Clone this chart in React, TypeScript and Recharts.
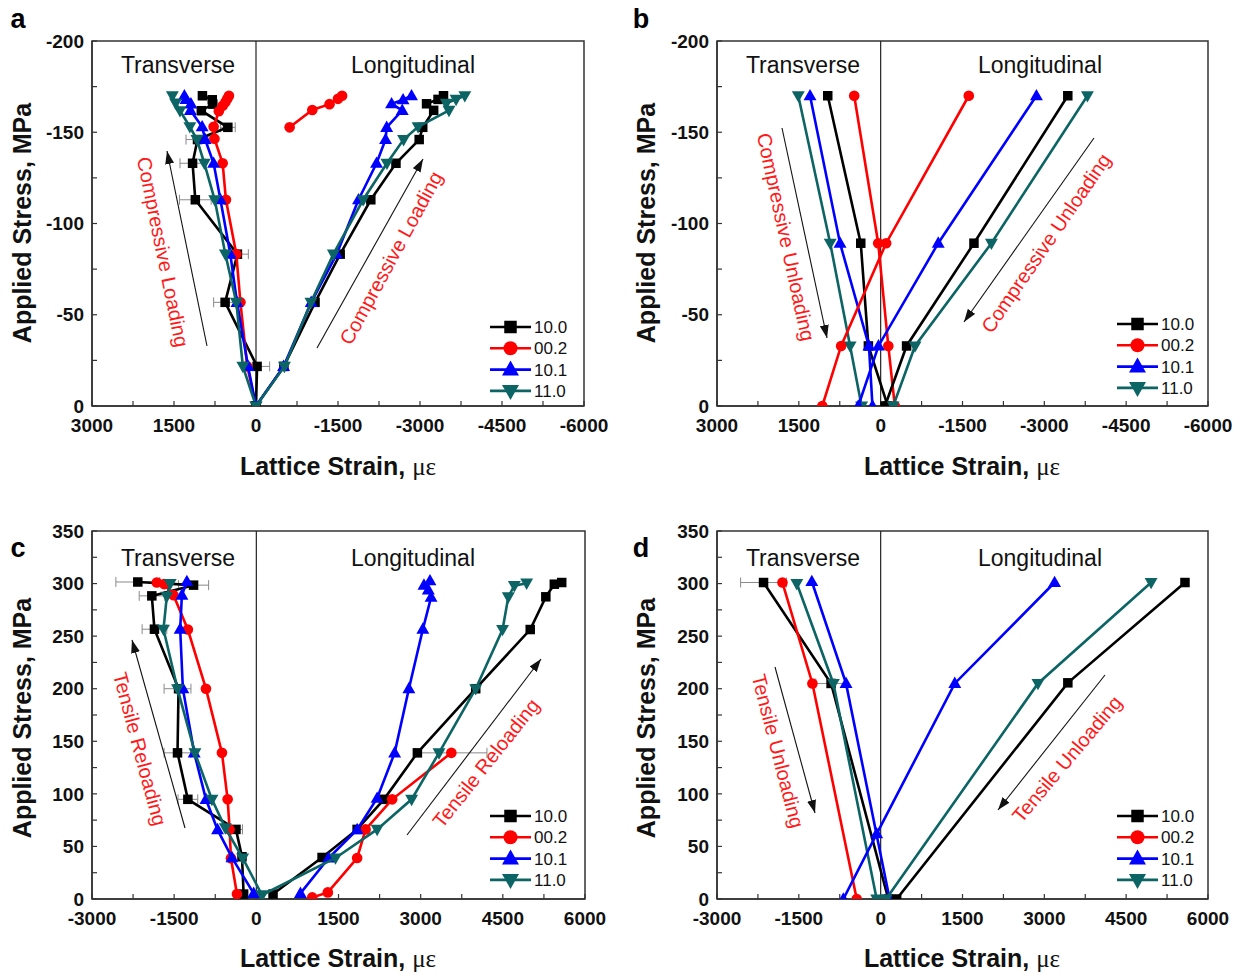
import React from 'react'
import {
  ScatterChart,
  Scatter,
  XAxis,
  YAxis,
  ReferenceLine,
  ReferenceArea,
  ErrorBar,
  Legend,
} from 'recharts'

// [lattice strain (με), applied stress (MPa), optional strain error bar]
type Pt = [number, number, number?]

const seriesNames = ['10.0', '00.2', '10.1', '11.0']
const seriesColors = ['#000000', '#ff0000', '#0000ff', '#0c6464']
const seriesMarkers = ['square', 'circle', 'triangle', 'triangleDown']

const compStrainTicks = [3000, 2250, 1500, 750, 0, -750, -1500, -2250, -3000, -3750, -4500, -5250, -6000]
const compStressTicks = [0, -25, -50, -75, -100, -125, -150, -175, -200]
const tensStrainTicks = [-3000, -2250, -1500, -750, 0, 750, 1500, 2250, 3000, 3750, 4500, 5250, 6000]
const tensStressTicks = [0, 25, 50, 75, 100, 125, 150, 175, 200, 225, 250, 275, 300, 325, 350]

// (a) compressive loading
const aT100: Pt[] = [[0, 0], [-20, -21.7, 230], [565, -56.8, 210], [340, -83.2, 200], [1110, -113, 290], [1160, -133, 230], [1070, -146, 210], [515, -152.7, 135], [1000, -161.8], [790, -165.4], [800, -167.8], [980, -170]]
const aT002: Pt[] = [[0, 0], [160, -21.7], [285, -56.8], [360, -83.2], [550, -113], [610, -133], [760, -146.5], [775, -153], [680, -161.5], [610, -164.5], [560, -166.5], [525, -168.3], [495, -170]]
const aT101: Pt[] = [[0, 0], [145, -21.7], [347, -56.8], [470, -83.2], [650, -113], [775, -133], [930, -146], [985, -153], [1200, -162], [1190, -165.5], [1280, -168], [1310, -170]]
const aT110: Pt[] = [[0, 0], [240, -21.7], [360, -56.8], [560, -83.2], [755, -113], [945, -133], [1080, -146], [1210, -153], [1390, -161.8], [1470, -166], [1530, -170]]
const aL100: Pt[] = [[0, 0], [-510, -21.7], [-1080, -56.8], [-1540, -83.2], [-2100, -113], [-2560, -133], [-2985, -146], [-3050, -152.7], [-3250, -162], [-3120, -165.6], [-3330, -168], [-3430, -170]]
const aL002: Pt[] = [[-615, -152.7], [-1030, -162.2], [-1345, -165.4], [-1500, -168.3], [-1575, -170]]
const aL101: Pt[] = [[0, 0], [-505, -21.7], [-1010, -56.8], [-1475, -83.2], [-1875, -113], [-2205, -133], [-2370, -146], [-2390, -152.7], [-2675, -162], [-2480, -165.6], [-2690, -167.8], [-2845, -170]]
const aL110: Pt[] = [[0, 0], [-520, -21.7], [-1005, -56.8], [-1415, -83.2], [-1960, -113], [-2395, -133], [-2700, -146], [-2965, -153], [-3530, -162], [-3480, -165.8], [-3660, -168], [-3820, -170]]

// (b) compressive unloading
const bT100: Pt[] = [[970, -170], [365, -89.2], [225, -32.9], [-130, 0]]
const bL100: Pt[] = [[-80, 0], [-475, -32.9], [-1710, -89.2], [-3430, -170]]
const bT002: Pt[] = [[485, -170], [45, -89.2], [-140, -32.9], [-260, 0]]
const bL002: Pt[] = [[1070, 0], [725, -32.9], [-100, -89.2], [-1615, -170]]
const bT101: Pt[] = [[1295, -170], [745, -89.2], [215, -32.9], [150, 0]]
const bL101: Pt[] = [[410, 0], [40, -32.9], [-1055, -89.2], [-2855, -170]]
const bT110: Pt[] = [[1510, -170], [925, -89.2], [560, -32.9], [350, 0]]
const bL110: Pt[] = [[-230, 0], [-630, -32.9], [-2030, -89.2], [-3790, -170]]

// (c) tensile reloading
const cT100: Pt[] = [[-232, 4.7], [-262, 40.2], [-372, 66.2, 120], [-1250, 94.8, 180], [-1439, 139, 245], [-1420, 200], [-1860, 256.6, 225], [-1908, 288.3, 230], [-1146, 298.5, 275], [-2164, 301.5, 400]]
const cT002: Pt[] = [[-354, 4.7], [-463, 38.7], [-488, 66.2], [-524, 94.8], [-628, 139], [-920, 200], [-1250, 256.3], [-1512, 289], [-1683, 299.5], [-1817, 301]]
const cT101: Pt[] = [[-49, 5.4], [-445, 39.3], [-708, 66], [-920, 94.8], [-1134, 139], [-1341, 200], [-1390, 256.6], [-1359, 289], [-1268, 302]]
const cT110: Pt[] = [[104, 3.8], [-250, 39], [-567, 67.7], [-811, 94.8], [-1120, 139], [-1439, 200, 245], [-1695, 256.6], [-1634, 288], [-1573, 300]]
const cL100: Pt[] = [[305, 4.7], [1200, 39.5], [1840, 66.2], [2330, 94.8], [2940, 139], [4005, 200], [5000, 256.3], [5285, 287.4], [5440, 299.4], [5575, 301]]
const cL002: Pt[] = [[1020, 1.5], [1305, 6.3], [1840, 39], [1995, 66.2], [2480, 94.8], [3560, 139, 650]]
const cL101: Pt[] = [[805, 5.4], [1320, 39], [1840, 66], [2205, 95.8], [2525, 139], [2785, 200], [3040, 256.6], [3190, 287], [3140, 294], [3060, 298.5], [3170, 302.7]]
const cL110: Pt[] = [[104, 3.8], [1445, 39], [2205, 66.2], [2835, 94.8], [3335, 139], [4005, 200], [4495, 256.3], [4600, 287.4], [4710, 298], [4935, 300.4]]

// (d) tensile unloading
const dT100: Pt[] = [[-2147, 301, 420], [-909, 205, 280], [140, 0]]
const dT002: Pt[] = [[-1800, 301], [-1251, 205], [-439, 0]]
const dT101: Pt[] = [[-1262, 302], [-635, 205], [164, 0]]
const dT110: Pt[] = [[-1537, 300], [-867, 205], [-73, 0]]
const dL100: Pt[] = [[293, 0], [3431, 205.6], [5578, 301]]
const dL101: Pt[] = [[-684, 0], [-73, 62], [1359, 205], [3188, 301]]
const dL110: Pt[] = [[100, 0], [2883, 205], [4957, 301]]

const FONT = '"Liberation Sans", Arial, Helvetica, sans-serif'

type Trace = { pts: Pt[]; s: number }
type PanelCfg = {
  ox: number
  oy: number
  w: number
  h: number
  plotTop: number
  plotH: number
  plotW: number
  xDomain: [number, number]
  yDomain: [number, number]
  reversed: boolean
  xTicks: number[]
  yTicks: number[]
  legX: number
  legY: number
  traces: Trace[]
}

const panels: PanelCfg[] = [
  {
    ox: 0, oy: 0, w: 620, h: 490, plotTop: 41, plotH: 365, plotW: 492,
    xDomain: [-6000, 3000], yDomain: [-200, 0], reversed: true,
    xTicks: compStrainTicks, yTicks: compStressTicks, legX: 488, legY: 316,
    traces: [
      { pts: aT100, s: 0 }, { pts: aT002, s: 1 }, { pts: aT101, s: 2 }, { pts: aT110, s: 3 },
      { pts: aL100, s: 0 }, { pts: aL002, s: 1 }, { pts: aL101, s: 2 }, { pts: aL110, s: 3 },
    ],
  },
  {
    ox: 625, oy: 0, w: 615, h: 490, plotTop: 41, plotH: 365, plotW: 491,
    xDomain: [-6000, 3000], yDomain: [-200, 0], reversed: true,
    xTicks: compStrainTicks, yTicks: compStressTicks, legX: 490, legY: 313,
    traces: [
      { pts: bT100, s: 0 }, { pts: bT002, s: 1 }, { pts: bT101, s: 2 }, { pts: bT110, s: 3 },
      { pts: bL100, s: 0 }, { pts: bL002, s: 1 }, { pts: bL101, s: 2 }, { pts: bL110, s: 3 },
    ],
  },
  {
    ox: 0, oy: 490, w: 620, h: 488, plotTop: 41, plotH: 368, plotW: 493,
    xDomain: [-3000, 6000], yDomain: [0, 350], reversed: false,
    xTicks: tensStrainTicks, yTicks: tensStressTicks, legX: 488, legY: 315,
    traces: [
      { pts: cT100, s: 0 }, { pts: cT002, s: 1 }, { pts: cT101, s: 2 }, { pts: cT110, s: 3 },
      { pts: cL100, s: 0 }, { pts: cL002, s: 1 }, { pts: cL101, s: 2 }, { pts: cL110, s: 3 },
    ],
  },
  {
    ox: 625, oy: 490, w: 615, h: 488, plotTop: 41, plotH: 368, plotW: 491,
    xDomain: [-3000, 6000], yDomain: [0, 350], reversed: false,
    xTicks: tensStrainTicks, yTicks: tensStressTicks, legX: 490, legY: 315,
    traces: [
      { pts: dT100, s: 0 }, { pts: dT002, s: 1 }, { pts: dT101, s: 2 }, { pts: dT110, s: 3 },
      { pts: dL100, s: 0 }, { pts: dL101, s: 2 }, { pts: dL110, s: 3 },
    ],
  },
]

function Marker({ cx, cy, kind, color, size }: any) {
  if (cx == null || cy == null) return null
  const r = size / 2
  if (kind === 'square') return <rect x={cx - r} y={cy - r} width={size} height={size} fill={color} />
  if (kind === 'circle') return <circle cx={cx} cy={cy} r={r * 1.12} fill={color} />
  const h = size * 1.2
  const w = size * 0.68
  if (kind === 'triangle')
    return <polygon points={`${cx},${cy - h * 0.6} ${cx - w},${cy + h * 0.4} ${cx + w},${cy + h * 0.4}`} fill={color} />
  return <polygon points={`${cx},${cy + h * 0.6} ${cx - w},${cy - h * 0.4} ${cx + w},${cy - h * 0.4}`} fill={color} />
}

function LegendBox() {
  return (
    <svg width={95} height={90}>
      {seriesNames.map((n, i) => {
        const y = 11 + i * 21.3
        return (
          <g key={n}>
            <line x1={2} x2={43} y1={y} y2={y} stroke={seriesColors[i]} strokeWidth={2.6} />
            <Marker cx={22.5} cy={y} kind={seriesMarkers[i]} color={seriesColors[i]} size={12.5} />
            <text x={46} y={y + 6} fontSize={17} fontFamily={FONT} fill="#111">{n}</text>
          </g>
        )
      })}
    </svg>
  )
}

const tickStyle = { fontSize: 19, fontWeight: 'bold', fill: '#111', fontFamily: FONT }

function Panel({ cfg }: { cfg: PanelCfg }) {
  const xAxisH = 30
  const yAxisW = 52
  const margin = {
    top: cfg.plotTop,
    left: 92 - yAxisW,
    right: cfg.w - 92 - cfg.plotW,
    bottom: cfg.h - cfg.plotTop - cfg.plotH - xAxisH,
  }
  return (
    <div style={{ position: 'absolute', left: cfg.ox, top: cfg.oy }}>
      <ScatterChart width={cfg.w} height={cfg.h} margin={margin}>
        <XAxis
          type="number"
          dataKey="x"
          domain={cfg.xDomain}
          reversed={cfg.reversed}
          ticks={cfg.xTicks}
          interval={0}
          allowDataOverflow
          height={xAxisH}
          tickSize={-5}
          tickMargin={18}
          tickFormatter={(v: number) => (v % 1500 === 0 ? String(v) : '')}
          tick={tickStyle}
          axisLine={{ stroke: '#333', strokeWidth: 1.5 }}
          tickLine={{ stroke: '#333', strokeWidth: 1.2 }}
        />
        <YAxis
          type="number"
          dataKey="y"
          domain={cfg.yDomain}
          reversed={cfg.reversed}
          ticks={cfg.yTicks}
          interval={0}
          allowDataOverflow
          width={yAxisW}
          tickSize={-5}
          tickMargin={13}
          tickFormatter={(v: number) => (v % 50 === 0 ? String(v) : '')}
          tick={tickStyle}
          axisLine={{ stroke: '#333', strokeWidth: 1.5 }}
          tickLine={{ stroke: '#333', strokeWidth: 1.2 }}
        />
        <ReferenceArea
          x1={cfg.xDomain[0]}
          x2={cfg.xDomain[1]}
          y1={cfg.yDomain[0]}
          y2={cfg.yDomain[1]}
          fill="none"
          stroke="#333"
          strokeWidth={1.5}
        />
        <ReferenceLine x={0} stroke="#222" strokeWidth={1.2} />
        {cfg.traces.map((tr, i) => {
          const color = seriesColors[tr.s]
          const kind = seriesMarkers[tr.s]
          const data = tr.pts.map(([x, y, e]) => ({ x, y, ex: e ?? 0 }))
          const hasErr = tr.pts.some((p) => p[2] != null)
          return (
            <Scatter
              key={i}
              name={seriesNames[tr.s]}
              data={data}
              fill={color}
              line={{ stroke: color, strokeWidth: 2.6 }}
              lineType="joint"
              isAnimationActive={false}
              shape={(p: any) => <Marker cx={p.cx} cy={p.cy} kind={kind} color={color} size={9.5} />}
            >
              {hasErr && <ErrorBar dataKey="ex" direction="x" width={5} stroke="#8a8a8a" strokeWidth={1} />}
            </Scatter>
          )
        })}
        <Legend
          layout="vertical"
          align="center"
          verticalAlign="middle"
          wrapperStyle={{ left: cfg.legX, top: cfg.legY, width: 95, height: 90 }}
          content={() => <LegendBox />}
        />
      </ScatterChart>
    </div>
  )
}

// annotation layout (page pixels)
const panelLetters = [
  { t: 'a', x: 18, y: 28 },
  { t: 'b', x: 641, y: 28 },
  { t: 'c', x: 18, y: 557 },
  { t: 'd', x: 641, y: 557 },
]
const regionLabels = [
  { t: 'Transverse', x: 178, y: 73 },
  { t: 'Longitudinal', x: 413, y: 73 },
  { t: 'Transverse', x: 803, y: 73 },
  { t: 'Longitudinal', x: 1040, y: 73 },
  { t: 'Transverse', x: 178, y: 566 },
  { t: 'Longitudinal', x: 413, y: 566 },
  { t: 'Transverse', x: 803, y: 566 },
  { t: 'Longitudinal', x: 1040, y: 566 },
]
const xTitles = [
  { x: 338, y: 475 },
  { x: 962, y: 475 },
  { x: 338, y: 967 },
  { x: 962, y: 967 },
]
const yTitles = [
  { x: 22, y: 223 },
  { x: 646, y: 223 },
  { x: 22, y: 718 },
  { x: 646, y: 718 },
]
const arrows = [
  [207, 346, 167, 151],
  [317, 348, 423, 159],
  [782, 128, 827, 338],
  [1094, 138, 964, 322],
  [185, 828, 132, 640],
  [407, 835, 541, 659],
  [775, 667, 815, 813],
  [1105, 675, 998, 810],
]
const redLabels = [
  { t: 'Compressive Loading', x: 163, y: 252, a: 78.5 },
  { t: 'Compressive Loading', x: 391, y: 258, a: -61.5 },
  { t: 'Compressive Unloading', x: 786, y: 237, a: 77.8 },
  { t: 'Compressive Unloading', x: 1046, y: 243, a: -55.5 },
  { t: 'Tensile Reloading', x: 140, y: 749, a: 75 },
  { t: 'Tensile Reloading', x: 486, y: 763, a: -51.5 },
  { t: 'Tensile Unloading', x: 778, y: 751, a: 75.5 },
  { t: 'Tensile Unloading', x: 1067, y: 759, a: -50 },
]

function Overlay() {
  return (
    <svg width={1240} height={978} style={{ position: 'absolute', left: 0, top: 0, pointerEvents: 'none' }}>
      <defs>
        <marker id="ah" markerWidth={13} markerHeight={9} refX={13} refY={4.5} orient="auto" markerUnits="userSpaceOnUse">
          <path d="M0,0 L13,4.5 L0,9 z" fill="#111" />
        </marker>
      </defs>
      {panelLetters.map((p) => (
        <text key={p.t} x={p.x} y={p.y} fontSize={27} fontWeight="bold" fontFamily={FONT} textAnchor="middle" fill="#000">
          {p.t}
        </text>
      ))}
      {regionLabels.map((p, i) => (
        <text key={i} x={p.x} y={p.y} fontSize={23} fontFamily={FONT} textAnchor="middle" fill="#111">
          {p.t}
        </text>
      ))}
      {xTitles.map((p, i) => (
        <text key={i} x={p.x} y={p.y} fontSize={25} fontWeight="bold" fontFamily={FONT} textAnchor="middle" fill="#111">
          Lattice Strain, <tspan fontWeight="normal" fontFamily='"Liberation Serif", "Times New Roman", serif'>με</tspan>
        </text>
      ))}
      {yTitles.map((p, i) => (
        <text
          key={i}
          x={p.x}
          y={p.y}
          fontSize={25}
          fontWeight="bold"
          fontFamily={FONT}
          textAnchor="middle"
          dominantBaseline="central"
          transform={`rotate(-90 ${p.x} ${p.y})`}
          fill="#111"
        >
          Applied Stress, MPa
        </text>
      ))}
      {arrows.map(([x1, y1, x2, y2], i) => (
        <line key={i} x1={x1} y1={y1} x2={x2} y2={y2} stroke="#111" strokeWidth={1.1} markerEnd="url(#ah)" />
      ))}
      {redLabels.map((p, i) => (
        <text
          key={i}
          x={p.x}
          y={p.y}
          fontSize={20}
          fontFamily={FONT}
          textAnchor="middle"
          dominantBaseline="central"
          transform={`rotate(${p.a} ${p.x} ${p.y})`}
          fill="#ff1a1a"
        >
          {p.t}
        </text>
      ))}
    </svg>
  )
}

export default function App() {
  return (
    <div style={{ position: 'absolute', left: 0, top: 0, width: 1240, height: 978, background: '#fff', overflow: 'hidden' }}>
      {panels.map((cfg, i) => (
        <Panel key={i} cfg={cfg} />
      ))}
      <Overlay />
    </div>
  )
}
